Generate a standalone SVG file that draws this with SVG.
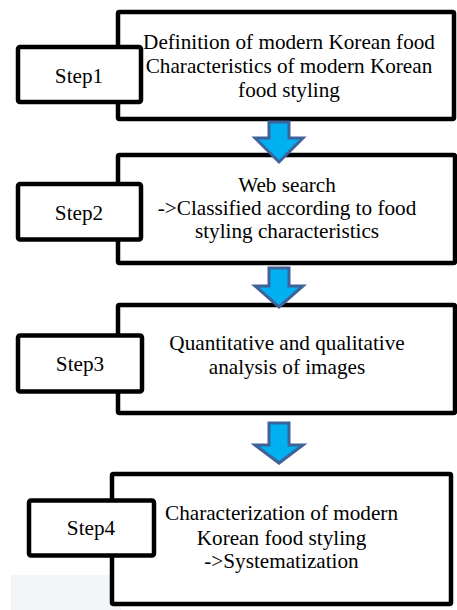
<svg xmlns="http://www.w3.org/2000/svg" width="457" height="610" viewBox="0 0 457 610">
<style>
.box{fill:#fff;stroke:#000;stroke-width:4.5;stroke-linejoin:round}
.t{font-family:"Liberation Serif","Times New Roman",serif;font-size:21.2px;fill:#000;text-anchor:middle}
.arr{fill:#00b0f0;stroke:#3e6399;stroke-width:3;stroke-linejoin:miter}
</style>
<rect x="11" y="575" width="110" height="35" fill="#f4f5f8"/>
<g id="main1">
<rect class="box" x="118" y="12" width="336" height="107" rx="1.5"/>
<text class="t" x="289" y="49">Definition of modern Korean food</text>
<text class="t" x="289" y="73">Characteristics of modern Korean</text>
<text class="t" x="289" y="97">food styling</text>
</g>
<g id="step1">
<rect class="box" x="18" y="47" width="123" height="55" rx="2"/>
<text class="t" x="79" y="83">Step1</text>
</g>
<g id="main2">
<rect class="box" x="118" y="155" width="337" height="108" rx="1.5"/>
<text class="t" x="287" y="192">Web search</text>
<text class="t" x="287" y="215">-&gt;Classified according to food</text>
<text class="t" x="287" y="238">styling characteristics</text>
</g>
<g id="step2">
<rect class="box" x="18" y="184" width="123" height="55.5" rx="2"/>
<text class="t" x="79" y="220">Step2</text>
</g>
<g id="main3">
<rect class="box" x="118" y="305" width="337" height="108" rx="1.5"/>
<text class="t" x="287" y="350">Quantitative and qualitative</text>
<text class="t" x="287" y="374">analysis of images</text>
</g>
<g id="step3">
<rect class="box" x="18" y="335.5" width="124" height="56" rx="2"/>
<text class="t" x="80" y="371">Step3</text>
</g>
<g id="main4">
<rect class="box" x="112" y="474" width="339" height="130" rx="1.5"/>
<text class="t" x="281.5" y="520">Characterization of modern</text>
<text class="t" x="281.5" y="545">Korean food styling</text>
<text class="t" x="281.5" y="568">-&gt;Systematization</text>
</g>
<g id="step4">
<rect class="box" x="29" y="500.5" width="125" height="55" rx="2"/>
<text class="t" x="91" y="535">Step4</text>
</g>
<g id="connectors">
<path class="arr" d="M269,122 H289 V138 H303 L279,162 L255,138 H269 Z"/>
<path class="arr" d="M269,268 H289 V286 H303 L279,307 L255,286 H269 Z"/>
<path class="arr" d="M269,423 H289 V445 H303 L279,463 L255,445 H269 Z"/>
</g>
</svg>
